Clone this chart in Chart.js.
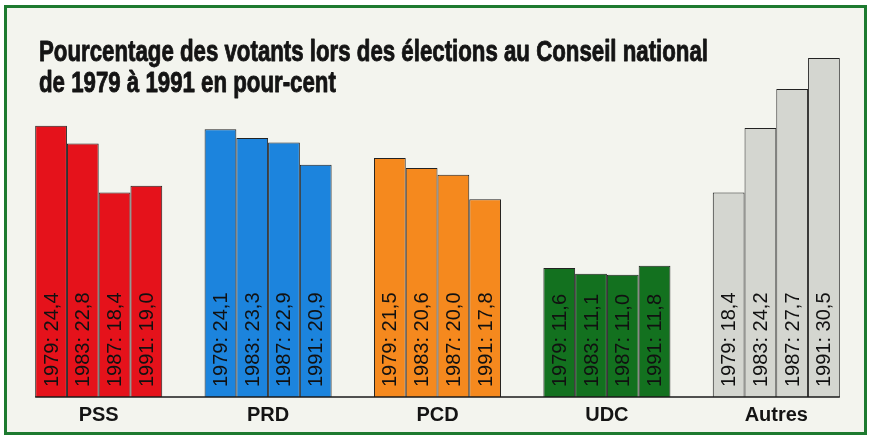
<!DOCTYPE html>
<html>
<head>
<meta charset="utf-8">
<script src="https://cdn.jsdelivr.net/npm/chart.js@4/dist/chart.umd.min.js"></script>
<style>
  html, body { margin: 0; padding: 0; background: #ffffff; }
  #wrap { position: relative; width: 870px; height: 438px; overflow: hidden; }
  #frame { position: absolute; left: 4px; top: 5px; width: 857px; height: 424px;
           border: 3px solid #1d7a2f; background: #f3f4ee; }
  #c { position: absolute; left: 0; top: 0; }
</style>
</head>
<body>
<div id="wrap">
  <div id="frame"></div>
  <canvas id="c" width="870" height="438"></canvas>
</div>
<script>
const titleLines = ['Pourcentage des votants lors des élections au Conseil national', 'de 1979 à 1991 en pour-cent'];
const categories = ['PSS', 'PRD', 'PCD', 'UDC', 'Autres'];
const years = ['1979', '1983', '1987', '1991'];
const v1979 = [24.4, 24.1, 21.5, 11.6, 18.4];
const v1983 = [22.8, 23.3, 20.6, 11.1, 24.2];
const v1987 = [18.4, 22.9, 20.0, 11.0, 27.7];
const v1991 = [19.0, 20.9, 17.8, 11.8, 30.5];
const partyColors = ['#e5121b', '#1c84dd', '#f5891e', '#13711f', '#d4d6d0'];

const seriesValues = [v1979, v1983, v1987, v1991];

const titlePlugin = {
  id: 'titlePlugin',
  afterDraw(chart) {
    const ctx = chart.ctx;
    ctx.save();
    ctx.font = "bold 30px 'Liberation Sans Narrow', 'Liberation Sans', Arial, sans-serif";
    ctx.fillStyle = '#141414';
    ctx.strokeStyle = '#141414';
    ctx.lineWidth = 0.9;
    ctx.lineJoin = 'round';
    ctx.textBaseline = 'alphabetic';
    ctx.textAlign = 'left';
    const w1 = ctx.measureText(titleLines[0]).width;
    const sx = 669 / w1;
    const baselines = [61, 92];
    titleLines.forEach((t, i) => {
      ctx.save();
      ctx.translate(39, baselines[i]);
      ctx.scale(sx, 1);
      ctx.fillText(t, 0, 0);
      ctx.strokeText(t, 0, 0);
      ctx.restore();
    });
    ctx.restore();
  }
};

const barLabelPlugin = {
  id: 'barLabelPlugin',
  afterDatasetsDraw(chart) {
    const ctx = chart.ctx;
    const yScale = chart.scales.y;
    const base = yScale.getPixelForValue(0);
    const first = chart.getDatasetMeta(0).data[0];
    const lastMeta = chart.getDatasetMeta(chart.data.datasets.length - 1);
    const last = lastMeta.data[lastMeta.data.length - 1];
    ctx.save();
    ctx.strokeStyle = '#1a1a1a';
    ctx.lineWidth = 1.5;
    ctx.beginPath();
    ctx.moveTo(first.x - first.width / 2, base);
    ctx.lineTo(last.x + last.width / 2, base);
    ctx.stroke();
    ctx.restore();

    ctx.save();
    ctx.font = "20px 'Liberation Sans', Arial, sans-serif";
    ctx.fillStyle = '#111111';
    ctx.textAlign = 'left';
    ctx.textBaseline = 'middle';
    chart.data.datasets.forEach((ds, di) => {
      const meta = chart.getDatasetMeta(di);
      meta.data.forEach((bar, i) => {
        const txt = years[di] + ': ' + ds.data[i].toFixed(1).replace('.', ',');
        ctx.save();
        ctx.translate(bar.x + 1, base - 10);
        ctx.rotate(-Math.PI / 2);
        ctx.fillText(txt, 0, 0);
        ctx.restore();
      });
    });
    ctx.restore();
  }
};

new Chart(document.getElementById('c'), {
  type: 'bar',
  data: {
    labels: categories,
    datasets: seriesValues.map((vals, i) => ({
      label: years[i],
      data: vals,
      backgroundColor: partyColors,
      borderColor: '#222222',
      borderWidth: 1,
      borderSkipped: 'start',
      barPercentage: 1.0,
      categoryPercentage: 0.75
    }))
  },
  options: {
    responsive: false,
    animation: false,
    devicePixelRatio: 1,
    layout: { padding: { left: 14, right: 9, top: 58, bottom: 0 } },
    plugins: {
      legend: { display: false },
      tooltip: { enabled: false },
      title: { display: false }
    },
    scales: {
      x: {
        grid: { display: false, drawTicks: false },
        border: { display: false },
        afterFit(scale) { scale.height = 41; },
        ticks: {
          color: '#141414',
          padding: 6,
          font: { family: "'Liberation Sans', Arial, sans-serif", size: 20, weight: 'bold' }
        }
      },
      y: {
        display: false,
        min: 0,
        max: 30.5
      }
    }
  },
  plugins: [titlePlugin, barLabelPlugin]
});
</script>
</body>
</html>
